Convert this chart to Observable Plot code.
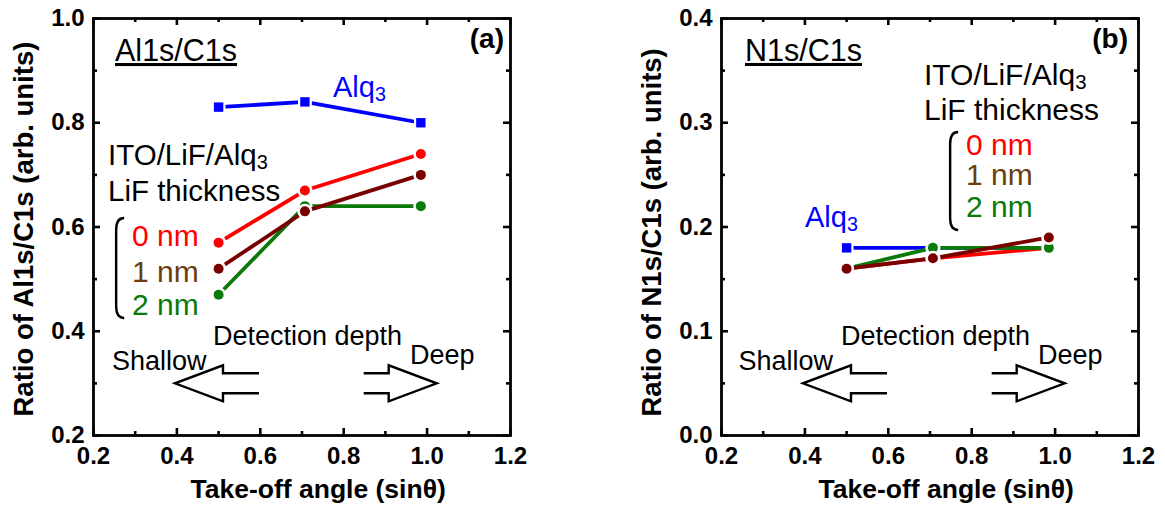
<!DOCTYPE html>
<html>
<head>
<meta charset="utf-8">
<script src="https://cdn.jsdelivr.net/npm/d3@7"></script>
<script src="https://cdn.jsdelivr.net/npm/@observablehq/plot@0.6"></script>
<style>
  html, body { margin: 0; padding: 0; background: #fff; }
  #wrap { display: flex; width: 1165px; height: 508px; overflow: hidden; }
  #wrap svg { overflow: visible; }
</style>
</head>
<body>
<div id="wrap"></div>
<script>
// ---------- data ----------
const angles = [0.5, 0.707, 0.985];            // take-off angle (sin θ)
const seriesNames = ["Alq3", "0 nm", "2 nm", "1 nm"]; // drawing order

// (a) Al1s/C1s
const al_Alq3 = [0.83, 0.84, 0.80];
const al_0nm  = [0.57, 0.67, 0.74];
const al_1nm  = [0.52, 0.63, 0.70];
const al_2nm  = [0.47, 0.64, 0.64];

// (b) N1s/C1s
const n_Alq3 = [0.18, 0.18, 0.18];
const n_0nm  = [0.16, 0.17, 0.18];
const n_1nm  = [0.16, 0.17, 0.19];
const n_2nm  = [0.16, 0.18, 0.18];

// ticks
const xTicks   = [0.2, 0.4, 0.6, 0.8, 1.0, 1.2];
const xMinor   = [0.3, 0.5, 0.7, 0.9, 1.1];
const alYTicks = [0.2, 0.4, 0.6, 0.8, 1.0];
const alYMinor = [0.3, 0.5, 0.7, 0.9];
const nYTicks  = [0.0, 0.1, 0.2, 0.3, 0.4];
const nYMinor  = [0.05, 0.15, 0.25, 0.35];

// ---------- styles ----------
const BLUE = "#0000ff", RED = "#ff0000", DRED = "#7a0000", GREEN = "#0a7a0a", BROWN = "#6b3d0e";
const color = {"Alq3": BLUE, "0 nm": RED, "1 nm": DRED, "2 nm": GREEN};
const symbol = {"Alq3": "square", "0 nm": "circle", "1 nm": "circle", "2 nm": "circle"};
const FONT = "'Liberation Sans', Arial, Helvetica, sans-serif";
const H = 508, MT = 18, MB = 73;

// ---------- annotation mark (positions in data units, drawn through the scales) ----------
function annotations(items) {
  return (index, scales) => {
    const sx = scales.x, sy = scales.y;
    const g = d3.create("svg:g").attr("font-family", FONT);
    for (const it of items) {
      if (it.type === "text") {
        const t = g.append("text")
          .attr("x", sx(it.x)).attr("y", sy(it.y))
          .attr("font-size", it.size)
          .attr("font-weight", it.weight || "normal")
          .attr("fill", it.fill || "black")
          .attr("text-anchor", it.anchor || "start");
        t.append("tspan").text(it.text);
        if (it.sub) t.append("tspan").attr("font-size", it.size * 0.68).attr("dy", it.size * 0.12).text(it.sub);
        if (it.underline) t.attr("text-decoration", "underline");
      } else if (it.type === "bracket") {
        const x = sx(it.x), y1 = sy(it.y1), y2 = sy(it.y2), w = 8, r = 12;
        g.append("path")
          .attr("d", `M${x + w},${y1}Q${x},${y1} ${x},${y1 + r}L${x},${y2 - r}Q${x},${y2} ${x + w},${y2}`)
          .attr("fill", "none").attr("stroke", "black").attr("stroke-width", 2.4);
      } else if (it.type === "arrow") {
        const tx = sx(it.x), ty = sy(it.y), dir = it.dir, hl = 48, hh = 18, sh = 10, tl = it.tail;
        const p = (dx, dy) => `${tx - dir * dx},${ty + dy}`;
        g.append("path")
          .attr("d", `M${p(hl + tl, -sh)}L${p(hl, -sh)}L${p(hl, -hh)}L${p(0, 0)}L${p(hl, hh)}L${p(hl, sh)}L${p(hl + tl, sh)}`)
          .attr("fill", "none").attr("stroke", "black").attr("stroke-width", 2.4)
          .attr("stroke-linejoin", "miter");
      }
    }
    return g.node();
  };
}

function panel({width, marginLeft, marginRight, yDomain, yTicks, yMinor, data, yTitle, notes}) {
  const PW = width - marginLeft - marginRight, PH = H - MT - MB;
  const marks = [];
  for (const name of seriesNames) {
    const rows = angles.map((x, i) => ({x, y: data[name][i]}));
    const sq = symbol[name] === "square";
    marks.push(Plot.line(rows, {x: "x", y: "y", stroke: color[name], strokeWidth: 3.8}));
    marks.push(Plot.dot(rows, {x: "x", y: "y", symbol: symbol[name], r: sq ? 7.8 : 7.6, fill: "white", stroke: "none"}));
    marks.push(Plot.dot(rows, {x: "x", y: "y", symbol: symbol[name], r: sq ? 5.3 : 5.0, fill: color[name], stroke: "none"}));
  }
  // inward ticks on all four sides
  const tw = 2.6;
  marks.push(
    Plot.ruleX(xTicks, {x: d => d, insetTop: PH - 7, strokeWidth: tw}),
    Plot.ruleX(xTicks, {x: d => d, insetBottom: PH - 7, strokeWidth: tw}),
    Plot.ruleX(xMinor, {x: d => d, insetTop: PH - 4, strokeWidth: tw}),
    Plot.ruleX(xMinor, {x: d => d, insetBottom: PH - 4, strokeWidth: tw}),
    Plot.ruleY(yTicks, {y: d => d, insetRight: PW - 7, strokeWidth: tw}),
    Plot.ruleY(yTicks, {y: d => d, insetLeft: PW - 7, strokeWidth: tw}),
    Plot.ruleY(yMinor, {y: d => d, insetRight: PW - 4, strokeWidth: tw}),
    Plot.ruleY(yMinor, {y: d => d, insetLeft: PW - 4, strokeWidth: tw}),
    Plot.frame({stroke: "black", strokeWidth: 2.8}),
    Plot.axisX(xTicks, {tickSize: 0, tickPadding: 11, fontSize: 24, fontWeight: "bold", tickFormat: d3.format(".1f"), label: null}),
    Plot.axisY(yTicks, {tickSize: 0, tickPadding: 9, fontSize: 24, fontWeight: "bold", tickFormat: d3.format(".1f"), label: null}),
    Plot.text(["Take-off angle (sinθ)"], {text: d => d, frameAnchor: "bottom-left", dx: 97, dy: 62, textAnchor: "start", lineAnchor: "bottom", fontSize: 26.5, fontWeight: "bold"}),
    Plot.text([yTitle], {text: d => d, frameAnchor: "bottom-left", rotate: -90, dx: -61, dy: -19, textAnchor: "start", lineAnchor: "bottom", fontSize: 27.5, fontWeight: "bold"}),
    annotations(notes)
  );
  return Plot.plot({
    width, height: H,
    marginLeft, marginRight, marginTop: MT, marginBottom: MB,
    x: {domain: [0.2, 1.2]},
    y: {domain: yDomain},
    style: {fontFamily: FONT, background: "white", color: "black", overflow: "visible"},
    marks
  });
}

// annotation layout (data units of each panel)
const notesA = [
  {type: "text", x: 0.2528, y: 0.9175, text: "Al1s/C1s", size: 30.5, underline: true},
  {type: "text", x: 1.1856, y: 0.942, text: "(a)", size: 28, weight: "bold", anchor: "end"},
  {type: "text", x: 0.7755, y: 0.8484, text: "Alq", sub: "3", size: 29, fill: BLUE},
  {type: "text", x: 0.236, y: 0.718, text: "ITO/LiF/Alq", sub: "3", size: 29.5},
  {type: "text", x: 0.236, y: 0.6495, text: "LiF thickness", size: 29.5},
  {type: "bracket", x: 0.2555, y1: 0.6163, y2: 0.4245},
  {type: "text", x: 0.2935, y: 0.5626, text: "0 nm", size: 30, fill: RED},
  {type: "text", x: 0.2935, y: 0.4935, text: "1 nm", size: 30, fill: BROWN},
  {type: "text", x: 0.2935, y: 0.4302, text: "2 nm", size: 30, fill: GREEN},
  {type: "text", x: 0.4878, y: 0.3727, text: "Detection depth", size: 27},
  {type: "text", x: 0.2456, y: 0.3247, text: "Shallow", size: 27},
  {type: "text", x: 0.9602, y: 0.3362, text: "Deep", size: 27},
  {type: "arrow", x: 0.3966, y: 0.2992, dir: -1, tail: 36},
  {type: "arrow", x: 1.0242, y: 0.2992, dir: 1, tail: 25}
];
const notesB = [
  {type: "text", x: 0.2576, y: 0.3588, text: "N1s/C1s", size: 30.5, underline: true},
  {type: "text", x: 1.176, y: 0.371, text: "(b)", size: 28, weight: "bold", anchor: "end"},
  {type: "text", x: 0.6868, y: 0.3357, text: "ITO/LiF/Alq", sub: "3", size: 30},
  {type: "text", x: 0.6868, y: 0.3022, text: "LiF thickness", size: 30},
  {type: "bracket", x: 0.7495, y1: 0.2906, y2: 0.1966},
  {type: "text", x: 0.7875, y: 0.2686, text: "0 nm", size: 30, fill: RED},
  {type: "text", x: 0.7875, y: 0.2398, text: "1 nm", size: 30, fill: BROWN},
  {type: "text", x: 0.7875, y: 0.2091, text: "2 nm", size: 30, fill: GREEN},
  {type: "text", x: 0.4014, y: 0.1995, text: "Alq", sub: "3", size: 29, fill: BLUE},
  {type: "text", x: 0.4878, y: 0.0864, text: "Detection depth", size: 27},
  {type: "text", x: 0.2420, y: 0.0623, text: "Shallow", size: 27},
  {type: "text", x: 0.9602, y: 0.0681, text: "Deep", size: 27},
  {type: "arrow", x: 0.3966, y: 0.0496, dir: -1, tail: 36},
  {type: "arrow", x: 1.0242, y: 0.0496, dir: 1, tail: 25}
];

const wrap = document.getElementById("wrap");
wrap.append(panel({
  width: 582, marginLeft: 93, marginRight: 72,
  yDomain: [0.2, 1.0], yTicks: alYTicks, yMinor: alYMinor,
  data: {"Alq3": al_Alq3, "0 nm": al_0nm, "1 nm": al_1nm, "2 nm": al_2nm},
  yTitle: "Ratio of Al1s/C1s (arb. units)", notes: notesA
}));
wrap.append(panel({
  width: 583, marginLeft: 139, marginRight: 27,
  yDomain: [0.0, 0.4], yTicks: nYTicks, yMinor: nYMinor,
  data: {"Alq3": n_Alq3, "0 nm": n_0nm, "1 nm": n_1nm, "2 nm": n_2nm},
  yTitle: "Ratio of N1s/C1s (arb. units)", notes: notesB
}));
</script>
</body>
</html>
